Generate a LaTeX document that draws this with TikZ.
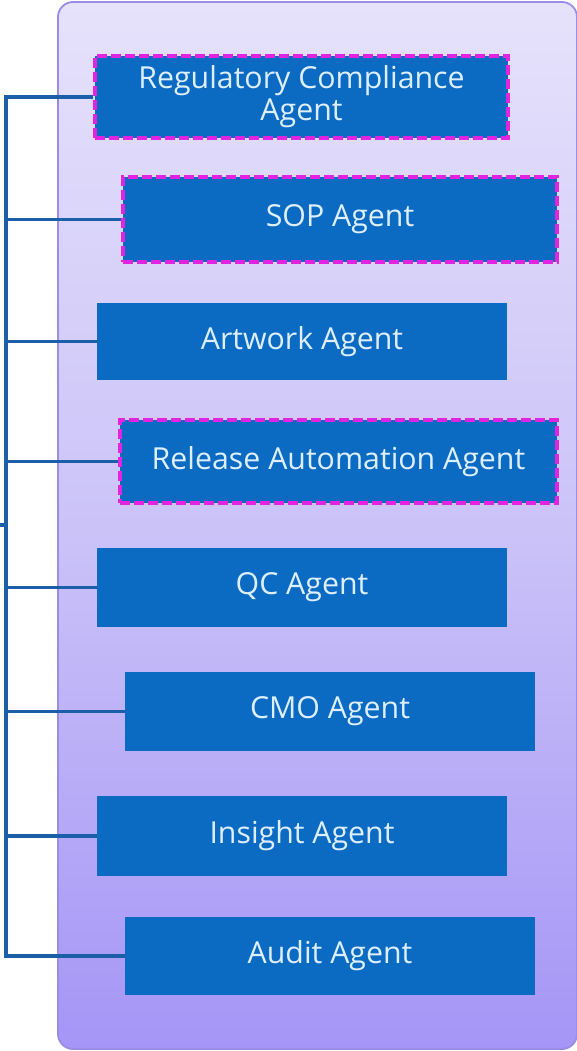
\documentclass[tikz,border=0pt]{standalone}
\usepackage{fontspec}
\setmainfont{Open Sans}
\definecolor{panelTop}{HTML}{E6E2FB}
\definecolor{panelMid}{HTML}{CBC3F8}
\definecolor{panelBot}{HTML}{A595F6}
\definecolor{panelEdge}{HTML}{9C8CE6}
\definecolor{agentBlue}{HTML}{0B6BC3}
\definecolor{agentText}{HTML}{DDEEFF}
\definecolor{busBlue}{HTML}{1A5FA8}
\definecolor{flagPink}{HTML}{E024E0}
\tikzset{
  agent/.style={fill=agentBlue, text=agentText, inner sep=0pt, align=center,
    font=\fontsize{30.3}{32}\selectfont, anchor=center},
  flagged/.style={draw=flagPink, line width=3.5pt, dash pattern=on 10pt off 4pt},
  bus/.style={draw=busBlue, line width=3.5pt},
}
\begin{document}
\begin{tikzpicture}[x=1pt, y=-1pt]
\useasboundingbox (0,0) rectangle (577,1051);
% container panel
\shade[top color=panelTop, bottom color=panelBot, middle color=panelMid, rounded corners=15pt]
  (58,2) rectangle (577,1049);
\draw[panelEdge, line width=1.8pt, rounded corners=15pt] (58,2) rectangle (577,1049);

% agents
\node[agent, flagged, minimum width=413pt, minimum height=82pt] (reg) at (301.5,97) {Regulatory Compliance\\Agent};
\node[agent, flagged, minimum width=434pt, minimum height=85pt] (sop) at (340,219.5) {SOP Agent};
\node[agent, minimum width=410pt, minimum height=77pt] (art) at (302,341.5) {Artwork Agent};
\node[agent, flagged, minimum width=437pt, minimum height=83pt] (rel) at (338.5,461.5) {Release Automation Agent};
\node[agent, minimum width=410pt, minimum height=79pt] (qc) at (302,587.5) {QC Agent};
\node[agent, minimum width=410pt, minimum height=79pt] (cmo) at (330,711.5) {CMO Agent};
\node[agent, minimum width=410pt, minimum height=80pt] (ins) at (302,836) {Insight Agent};
\node[agent, minimum width=410pt, minimum height=78pt] (aud) at (330,956) {Audit Agent};

% bus on the left
\coordinate (busTop) at (6,97);
\coordinate (busBot) at (6,956);
\coordinate (feed) at (0,525);
\coordinate (feedJoin) at (6,525);
\draw[bus, line cap=rect] (busTop) -- (busBot);
\draw[bus] (feed) -- (feedJoin);
\foreach \n in {reg,sop,art,rel,qc,cmo,ins,aud}{
  \draw[bus] (\n.west -| busTop) -- (\n.west);
}
\end{tikzpicture}
\end{document}
